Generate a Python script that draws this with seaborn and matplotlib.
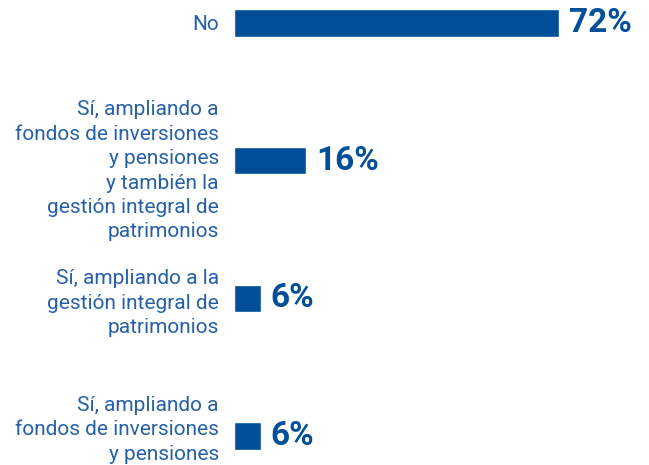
import matplotlib
matplotlib.use('Agg')
import matplotlib.pyplot as plt
import matplotlib.transforms as mtransforms
import seaborn as sns
import pandas as pd

# datos de la encuesta
categorias = [
    'No',
    'Sí, ampliando a\nfondos de inversiones\ny pensiones\ny también la\ngestión integral de\npatrimonios',
    'Sí, ampliando a la\ngestión integral de\npatrimonios',
    'Sí, ampliando a\nfondos de inversiones\ny pensiones',
]
valores = [72, 16, 6, 6]
etiquetas = ['72%', '16%', '6%', '6%']

azul = '#004f98'
azul_texto = '#2560a8'

sns.set_style('white')
plt.rcParams['font.family'] = ['Roboto', 'DejaVu Sans']

df = pd.DataFrame({'categoria': categorias, 'valor': valores})

fig = plt.figure(figsize=(6.49, 4.65), dpi=100)
ax = fig.add_axes([0.3606, 0, 0.557, 1])
sns.barplot(data=df, x='valor', y='categoria', color=azul, saturation=1,
            width=0.2, ax=ax)

ax.set_xlim(0, 80)
ax.set_ylim(3.21, -0.167)
ax.set_xlabel('')
ax.set_ylabel('')
ax.set_xticks([])
ax.tick_params(axis='y', length=0, pad=11)
# pequeños ajustes verticales de las etiquetas (en puntos)
desplaz = [0, -4, 0, 8]
for lbl, dy in zip(ax.get_yticklabels(), desplaz):
    lbl.set_fontsize(15)
    lbl.set_color(azul_texto)
    lbl.set_linespacing(1.36)
    lbl.set_horizontalalignment('right')
    lbl.set_transform(lbl.get_transform() +
                      mtransforms.ScaledTranslation(0, dy / 72, fig.dpi_scale_trans))
sns.despine(ax=ax, left=True, bottom=True)

for cont in ax.containers:
    ax.bar_label(cont, labels=etiquetas, padding=7, fontsize=24,
                 fontweight='bold', color=azul)

fig.savefig('out.png', dpi=100)
